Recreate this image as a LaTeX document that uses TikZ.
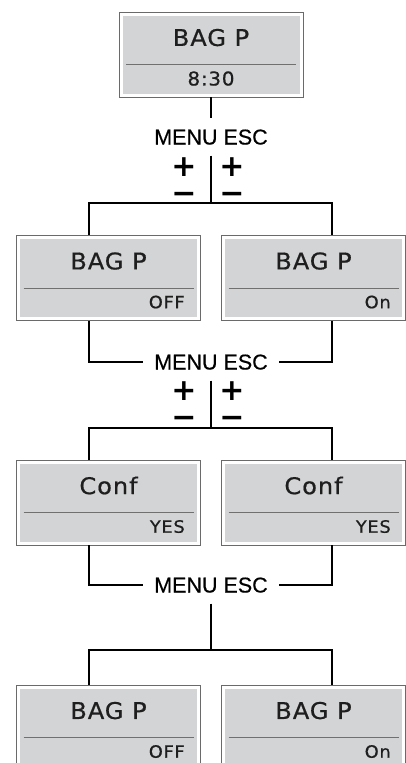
\documentclass[tikz,border=0pt]{standalone}
\usepackage{fontspec}
\setmainfont{Liberation Sans}
\newfontfamily\lcdfont{DejaVu Sans}[FakeStretch=1.05,LetterSpace=4,FakeBold=0.6]
\newfontfamily\menufont{Liberation Sans}[FakeBold=0.5]
\newfontfamily\keyfont{DejaVu Sans}
\usetikzlibrary{positioning,calc}
\definecolor{lcdfill}{HTML}{D3D4D6}
\definecolor{lcdedge}{HTML}{6A6A6A}
\definecolor{sepline}{HTML}{707070}
\definecolor{lcdtext}{HTML}{1E1E1E}

\begin{document}
\begin{tikzpicture}[
    x=1pt, y=-1pt,
    screen/.style={rectangle, draw=lcdedge, line width=0.9pt, fill=white,
        minimum width=184pt, minimum height=85pt, inner sep=0pt,
        path picture={
            \fill[lcdfill] ([shift={(3.5pt,3.5pt)}]path picture bounding box.south west)
                rectangle ([shift={(-3.5pt,-3.5pt)}]path picture bounding box.north east);
            \draw[sepline, line width=1pt] ([shift={(7pt,-10pt)}]path picture bounding box.west)
                -- ([shift={(-7pt,-10pt)}]path picture bounding box.east);
        }},
    title/.style={font=\lcdfont\fontsize{23}{23}\selectfont, text=lcdtext, inner sep=0pt},
    value/.style={font=\lcdfont\fontsize{17}{17}\selectfont, text=lcdtext, inner sep=0pt},
    bigvalue/.style={font=\lcdfont\fontsize{19}{19}\selectfont, text=lcdtext, inner sep=0pt},
    keys/.style={font=\menufont\fontsize{21.5}{21.5}\selectfont, text height=15pt, text depth=0pt,
        inner xsep=11pt, inner ysep=11pt},
    signs/.style={font=\keyfont\bfseries\fontsize{30}{27}\selectfont, align=center, inner sep=0pt},
    wire/.style={line width=1.2pt}
]
    \useasboundingbox (0,0) rectangle (406,763);

    % Start screen
    \node[screen] (bagA) at (211,54.5) {};
    \node[title] (bagAt) at ([yshift=-26pt]bagA.north) {BAG P};
    \node[bigvalue] (bagAv) at ([yshift=-67pt]bagA.north) {8:30};

    % First key row
    \node[keys] (menuA) at (211,137) {MENU ESC};
    \node[signs, anchor=north] (signAl) at ([shift={(-27pt,-20pt)}]menuA.center) {+\\−};
    \node[signs, anchor=north] (signAr) at ([shift={(21pt,-20pt)}]menuA.center) {+\\−};
    \coordinate (forkA) at (211,203);

    % Off / On
    \node[screen] (offA) at (108.5,278) {};
    \node[title] (offAt) at ([yshift=-26pt]offA.north) {BAG P};
    \node[value, anchor=east] (offAv) at ([shift={(-16pt,-67pt)}]offA.north east) {OFF};

    \node[screen] (onA) at (313.5,278) {};
    \node[title] (onAt) at ([yshift=-26pt]onA.north) {BAG P};
    \node[value, anchor=east] (onAv) at ([shift={(-15pt,-67pt)}]onA.north east) {On};

    % Second key row
    \node[keys] (menuB) at (211,362) {MENU ESC};
    \node[signs, anchor=north] (signBl) at ([shift={(-27pt,-19pt)}]menuB.center) {+\\−};
    \node[signs, anchor=north] (signBr) at ([shift={(21pt,-19pt)}]menuB.center) {+\\−};
    \coordinate (forkB) at (211,428);

    % Confirm
    \node[screen] (confL) at (108.5,502.5) {};
    \node[title] (confLt) at ([yshift=-26pt]confL.north) {Conf};
    \node[value, anchor=east] (confLv) at ([shift={(-16pt,-67pt)}]confL.north east) {YES};

    \node[screen] (confR) at (313.5,502.5) {};
    \node[title] (confRt) at ([yshift=-26pt]confR.north) {Conf};
    \node[value, anchor=east] (confRv) at ([shift={(-15pt,-67pt)}]confR.north east) {YES};

    % Third key row
    \node[keys] (menuC) at (211,585) {MENU ESC};
    \coordinate (forkC) at (211,650);

    % Result
    \node[screen] (offB) at (108.5,727.5) {};
    \node[title] (offBt) at ([yshift=-26pt]offB.north) {BAG P};
    \node[value, anchor=east] (offBv) at ([shift={(-16pt,-67pt)}]offB.north east) {OFF};

    \node[screen] (onB) at (313.5,727.5) {};
    \node[title] (onBt) at ([yshift=-26pt]onB.north) {BAG P};
    \node[value, anchor=east] (onBv) at ([shift={(-15pt,-67pt)}]onB.north east) {On};

    % Wires
    \draw[wire] (bagA) -- (menuA);
    \draw[wire] (menuA) -- (forkA);
    \draw[wire] ([xshift=-19.5pt]offA.north) |- (forkA) -| ([xshift=18.5pt]onA.north);
    \draw[wire] ([xshift=-19.5pt]offA.south) |- (menuB.west);
    \draw[wire] ([xshift=18.5pt]onA.south) |- (menuB.east);
    \draw[wire] (menuB) -- (forkB);
    \draw[wire] ([xshift=-19.5pt]confL.north) |- (forkB) -| ([xshift=18.5pt]confR.north);
    \draw[wire] ([xshift=-19.5pt]confL.south) |- (menuC.west);
    \draw[wire] ([xshift=18.5pt]confR.south) |- (menuC.east);
    \draw[wire] (menuC) -- (forkC);
    \draw[wire] ([xshift=-19.5pt]offB.north) |- (forkC) -| ([xshift=18.5pt]onB.north);
\end{tikzpicture}
\end{document}
